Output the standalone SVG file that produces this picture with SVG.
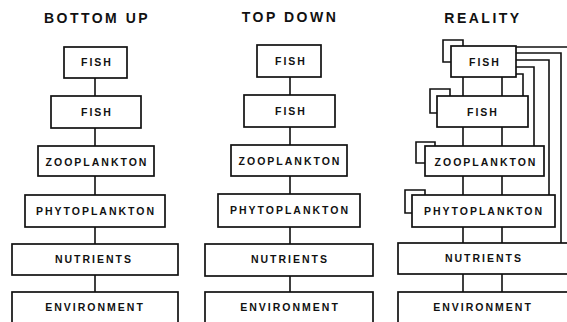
<svg xmlns="http://www.w3.org/2000/svg" width="567" height="322" viewBox="0 0 567 322">
<style>
.box{fill:#fff;stroke:#111;stroke-width:1.7}
.lbl{font-family:"Liberation Sans",Arial,sans-serif;font-weight:bold;font-size:10.5px;letter-spacing:2px;fill:#111;text-anchor:middle}
.ttl{font-family:"Liberation Sans",Arial,sans-serif;font-weight:bold;font-size:14px;letter-spacing:2.5px;fill:#111;text-anchor:middle}
.con{fill:none;stroke:#111;stroke-width:1.6}
</style>
<rect width="567" height="322" fill="#fff"/>
<g id="titles">
<text class="ttl" x="97" y="23">BOTTOM UP</text>
<text class="ttl" x="290" y="22">TOP DOWN</text>
<text class="ttl" x="483" y="23">REALITY</text>
</g>
<g id="connectors">
<path class="con" d="M95,78V96M95,128V146M95,176V195M95,227V244M95,275V292"/>
<path class="con" stroke-width="2" d="M290,77V95M290,127V145M290,176V194M290,227V244M290,276V292"/>
<path class="con" d="M463,77V96M502,77V96M463,127V146M502,127V146M463,176V195M502,176V195M463,227V243M502,227V243M463,274V292M502,274V292"/>
<path class="con" d="M516,47H567M516,53H561V243M516,60H549V195M516,67H534V146M516,74H523V96"/>
<path class="con" d="M451,62H443V40H463V46M437,113H430V89H450V96M425,163H416V142H435V146M412,213H405V190H425V195"/>
</g>
<g id="bu-fish1"><rect class="box" x="64" y="47" width="63" height="31"/><text class="lbl" x="97" y="66">FISH</text></g>
<g id="bu-fish2"><rect class="box" x="51" y="96" width="90" height="32"/><text class="lbl" x="97" y="116">FISH</text></g>
<g id="bu-zoo"><rect class="box" x="38" y="146" width="116" height="30"/><text class="lbl" x="97" y="166">ZOOPLANKTON</text></g>
<g id="bu-phyto"><rect class="box" x="25" y="195" width="140" height="32"/><text class="lbl" x="96" y="215">PHYTOPLANKTON</text></g>
<g id="bu-nutr"><rect class="box" x="12" y="244" width="166" height="31"/><text class="lbl" x="94" y="263">NUTRIENTS</text></g>
<g id="bu-env"><rect class="box" x="12" y="292" width="166" height="40"/><text class="lbl" x="95" y="311">ENVIRONMENT</text></g>
<g id="td-fish1"><rect class="box" x="257" y="45" width="64" height="32"/><text class="lbl" x="291" y="65">FISH</text></g>
<g id="td-fish2"><rect class="box" x="244" y="95" width="91" height="32"/><text class="lbl" x="291" y="115">FISH</text></g>
<g id="td-zoo"><rect class="box" x="231" y="145" width="116" height="31"/><text class="lbl" x="290" y="165">ZOOPLANKTON</text></g>
<g id="td-phyto"><rect class="box" x="218" y="194" width="142" height="33"/><text class="lbl" x="290" y="214">PHYTOPLANKTON</text></g>
<g id="td-nutr"><rect class="box" x="205" y="244" width="168" height="32"/><text class="lbl" x="290" y="263">NUTRIENTS</text></g>
<g id="td-env"><rect class="box" x="205" y="292" width="168" height="40"/><text class="lbl" x="290" y="311">ENVIRONMENT</text></g>
<g id="re-fish1"><rect class="box" x="451" y="46" width="65" height="31"/><text class="lbl" x="485" y="66">FISH</text></g>
<g id="re-fish2"><rect class="box" x="437" y="96" width="91" height="31"/><text class="lbl" x="483" y="116">FISH</text></g>
<g id="re-zoo"><rect class="box" x="425" y="146" width="119" height="30"/><text class="lbl" x="486" y="166">ZOOPLANKTON</text></g>
<g id="re-phyto"><rect class="box" x="412" y="195" width="143" height="32"/><text class="lbl" x="484" y="215">PHYTOPLANKTON</text></g>
<g id="re-nutr"><rect class="box" x="398" y="243" width="180" height="31"/><text class="lbl" x="484" y="262">NUTRIENTS</text></g>
<g id="re-env"><rect class="box" x="398" y="292" width="180" height="40"/><text class="lbl" x="483" y="311">ENVIRONMENT</text></g>
</svg>
